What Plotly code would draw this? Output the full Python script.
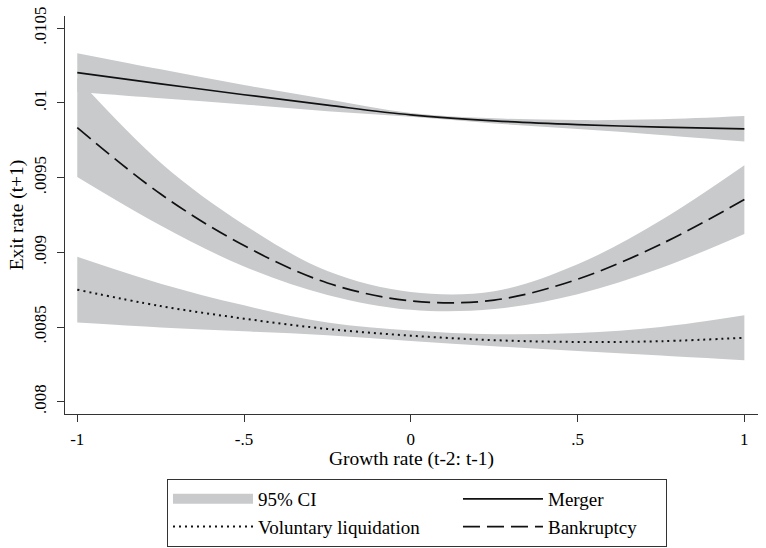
import plotly.graph_objects as go

# Growth rate (t-2: t-1)
growth = [-1.0, -0.75, -0.5, -0.25, 0.0, 0.25, 0.5, 0.75, 1.0]

# Merger
merger = [0.010203, 0.010128, 0.010055, 0.009985, 0.009920, 0.009880, 0.009855, 0.009838, 0.009827]
merger_hi = [0.010333, 0.010225, 0.010120, 0.010025, 0.009933, 0.009897, 0.009885, 0.009890, 0.009912]
merger_lo = [0.010073, 0.010031, 0.009990, 0.009945, 0.009907, 0.009863, 0.009825, 0.009786, 0.009742]

# Bankruptcy
bankr = [0.009835, 0.009390, 0.009045, 0.008795, 0.008675, 0.008680, 0.008820, 0.009055, 0.009353]
bankr_hi = [0.010165, 0.009600, 0.009185, 0.008875, 0.008735, 0.008740, 0.008920, 0.009215, 0.009583]
bankr_lo = [0.009505, 0.009180, 0.008905, 0.008715, 0.008615, 0.008620, 0.008720, 0.008895, 0.009123]

# Voluntary liquidation
volliq = [0.008750, 0.008640, 0.008556, 0.008487, 0.008442, 0.008412, 0.008400, 0.008405, 0.008428]
volliq_hi = [0.008970, 0.008790, 0.008645, 0.008530, 0.008477, 0.008452, 0.008460, 0.008500, 0.008578]
volliq_lo = [0.008530, 0.008497, 0.008471, 0.008445, 0.008407, 0.008372, 0.008340, 0.008310, 0.008278]

y_ticks = [0.008, 0.0085, 0.009, 0.0095, 0.01, 0.0105]
y_ticktext = [".008", ".0085", ".009", ".0095", ".01", ".0105"]
x_ticks = [-1, -0.5, 0, 0.5, 1]
x_ticktext = ["-1", "-.5", "0", ".5", "1"]

FONT = "Liberation Serif, Times New Roman, serif"
CI_COLOR = "#c9cacc"
LINE_COLOR = "#111111"

fig = go.Figure()

bands = [(merger_lo, merger_hi), (bankr_lo, bankr_hi), (volliq_lo, volliq_hi)]
for lo, hi in bands:
    fig.add_trace(go.Scatter(x=growth, y=lo, mode="lines", line=dict(width=0, color=CI_COLOR, shape="spline"),
                             showlegend=False, hoverinfo="skip"))
    fig.add_trace(go.Scatter(x=growth, y=hi, mode="lines", fill="tonexty", fillcolor=CI_COLOR,
                             line=dict(width=0, color=CI_COLOR, shape="spline"),
                             showlegend=False, hoverinfo="skip"))

# legend entry for the confidence bands
fig.add_trace(go.Scatter(x=[None], y=[None], mode="lines", name="95% CI", legendwidth=195,
                         line=dict(color=CI_COLOR, width=15)))

fig.add_trace(go.Scatter(x=growth, y=merger, mode="lines", name="Merger", legendwidth=113,
                         line=dict(color=LINE_COLOR, width=1.7, shape="spline")))
fig.add_trace(go.Scatter(x=growth, y=volliq, mode="lines", name="Voluntary liquidation", legendwidth=195,
                         line=dict(color=LINE_COLOR, width=2, dash="2px,4px", shape="spline")))
fig.add_trace(go.Scatter(x=growth, y=bankr, mode="lines", name="Bankruptcy", legendwidth=113,
                         line=dict(color=LINE_COLOR, width=1.7, dash="17px,7px", shape="spline")))

fig.update_layout(
    template="none",
    width=766, height=548,
    margin=dict(l=65, r=8, t=16, b=134),
    paper_bgcolor="white", plot_bgcolor="white",
    font=dict(family=FONT, size=17, color="black"),
    legend=dict(
        orientation="h", xref="container", yref="container",
        x=0.218, xanchor="left", y=0.1259, yanchor="top",
        bordercolor="#333333", borderwidth=1, bgcolor="white",
        font=dict(family=FONT, size=19, color="black"),
        itemwidth=80, traceorder="normal",
    ),
    xaxis=dict(
        range=[-1.0368, 1.0409], tickmode="array", tickvals=x_ticks, ticktext=x_ticktext,
        showline=True, linecolor="#333333", linewidth=1.2, ticks="outside", ticklen=7,
        tickcolor="#333333", showgrid=False, zeroline=False, automargin=False,
        ticklabelstandoff=2,
        tickfont=dict(family=FONT, size=17, color="black"),
        title=dict(text="Growth rate (t-2: t-1)", font=dict(family=FONT, size=19.5, color="black"), standoff=0),
    ),
    yaxis=dict(
        range=[0.0079177, 0.010582], tickmode="array", tickvals=y_ticks, ticktext=y_ticktext,
        showline=True, linecolor="#333333", linewidth=1.2, ticks="outside", ticklen=7,
        tickcolor="#333333", showgrid=False, zeroline=False, tickangle=-90, automargin=False,
        ticklabelstandoff=4,
        tickfont=dict(family=FONT, size=17, color="black"),
        title=dict(text="Exit rate (t+1)", font=dict(family=FONT, size=19.5, color="black"), standoff=2),
    ),
)

fig.write_html("out.html")
